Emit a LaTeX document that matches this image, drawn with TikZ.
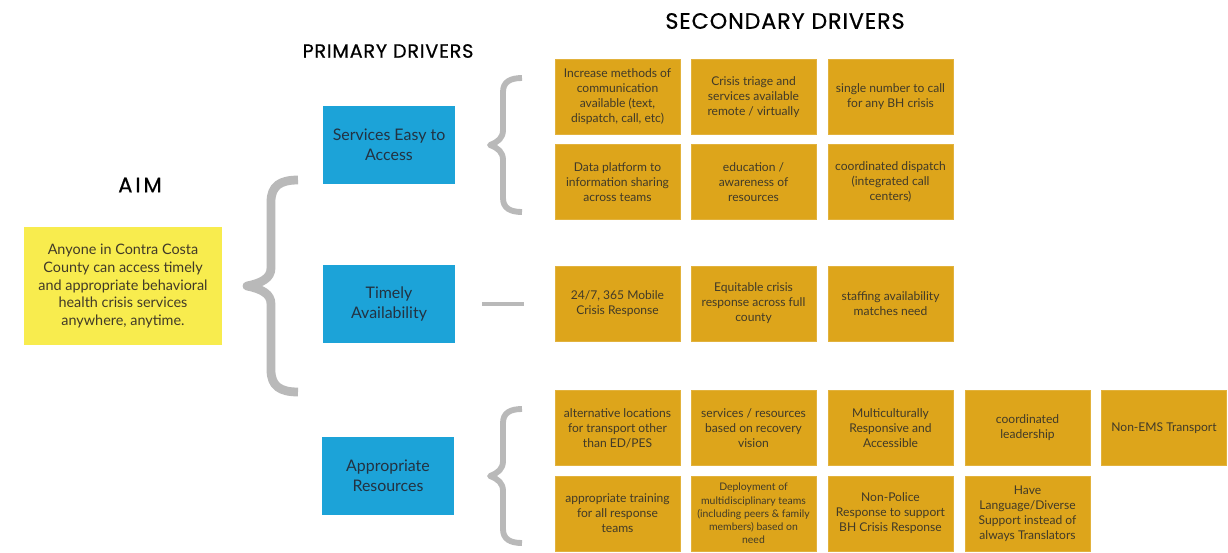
\documentclass[tikz,border=0pt]{standalone}
\usepackage{fontspec}
\setmainfont{Lato}
\newfontfamily\titlefont[LetterSpace=4,FakeBold=0.6]{Poppins}
\usepackage{tikz}
\definecolor{aimyellow}{RGB}{248,236,78}
\definecolor{primblue}{RGB}{28,163,216}
\definecolor{secorange}{RGB}{221,165,27}
\definecolor{bracegray}{RGB}{185,185,185}
\definecolor{notetext}{RGB}{65,58,40}
\definecolor{primtext}{RGB}{35,50,65}

\begin{document}
\begin{tikzpicture}
[x=0.03cm,y=-0.03cm,
 sec/.style={fill=secorange,draw=secorange!85!white,line width=0.6pt,minimum width=3.75cm,minimum height=2.25cm,inner sep=1pt,align=center,text=notetext,font=\fontsize{10.3}{12.8}\selectfont},
 prim/.style={fill=primblue,minimum width=3.96cm,minimum height=2.34cm,align=center,text=primtext,font=\fontsize{13.6}{17}\selectfont},
 title/.style={font=\titlefont\fontsize{19}{22}\selectfont},
 brace/.style={draw=bracegray,line width=7.5pt,line join=round},
 smallbrace/.style={draw=bracegray,line width=5pt,line join=round}]
\useasboundingbox (0,0) rectangle (1228,552);

\node(aimtitle) at (140,185) [title,font=\titlefont\addfontfeatures{LetterSpace=14}\fontsize{18}{20}\selectfont] {AIM};
\node(primtitle) at (388,51) [title,font=\titlefont\fontsize{16.4}{19}\selectfont] {PRIMARY DRIVERS};
\node(sectitle) at (785,21) [title] {SECONDARY DRIVERS};

\node(aim) at (123,286) [fill=aimyellow,minimum width=5.94cm,minimum height=3.54cm,align=center,text=notetext,font=\fontsize{12.3}{15.3}\selectfont] {Anyone in Contra Costa\\County can access timely\\and appropriate behavioral\\health crisis services\\anywhere, anytime.};

\node(prim1) at (389,145) [prim] {Services Easy to\\Access};
\node(prim2) at (389,304) [prim] {Timely\\Availability};
\node(prim3) at (388,476) [prim] {Appropriate\\Resources};

\draw[brace] (298,180) .. controls (280,180) and (271,186) .. (271,202) -- (271,268) .. controls (271,278) and (262,283) .. (247,286) .. controls (262,289) and (271,294) .. (271,304) -- (271,370) .. controls (271,386) and (280,392) .. (298,392);

\draw[smallbrace] (522,78) .. controls (510,78) and (503,82) .. (503,92) -- (503,130) .. controls (503,138) and (498,142) .. (490,145) .. controls (498,148) and (503,152) .. (503,160) -- (503,198) .. controls (503,208) and (510,212) .. (522,212);
\draw[smallbrace] (522,409) .. controls (510,409) and (503,413) .. (503,423) -- (503,461) .. controls (503,469) and (498,473) .. (490,476) .. controls (498,479) and (503,483) .. (503,491) -- (503,529) .. controls (503,539) and (510,543) .. (522,543);

\coordinate(dashL) at (482,304);
\coordinate(dashR) at (524,304);
\draw[draw=bracegray,line width=2.7pt] (dashL) -- (dashR);

% services easy to access
\node(sec1) at (617.5,97) [sec] {Increase methods of\\communication\\available (text,\\dispatch, call, etc)};
\node(sec2) at (753.5,97) [sec] {Crisis triage and\\services available\\remote / virtually};
\node(sec3) at (890.5,97) [sec] {single number to call\\for any BH crisis};
\node(sec4) at (617.5,182) [sec] {Data platform to\\information sharing\\across teams};
\node(sec5) at (753.5,182) [sec] {education /\\awareness of\\resources};
\node(sec6) at (890.5,182) [sec] {coordinated dispatch\\(integrated call\\centers)};

% timely availability
\node(sec7) at (617.5,303.5) [sec] {24/7, 365 Mobile\\Crisis Response};
\node(sec8) at (753.5,303.5) [sec] {Equitable crisis\\response across full\\county};
\node(sec9) at (890.5,303.5) [sec] {staffing availability\\matches need};

% appropriate resources
\node(sec10) at (617.5,428) [sec] {alternative locations\\for transport other\\than ED/PES};
\node(sec11) at (753.5,428) [sec] {services / resources\\based on recovery\\vision};
\node(sec12) at (890.5,428) [sec] {Multiculturally\\Responsive and\\Accessible};
\node(sec13) at (1027.5,428) [sec] {coordinated\\leadership};
\node(sec14) at (1164,428) [sec] {Non-EMS Transport};
\node(sec15) at (617.5,513.5) [sec] {appropriate training\\for all response\\teams};
\node(sec16) at (753.5,513.5) [sec,font=\fontsize{8.9}{11.3}\selectfont] {Deployment of\\multidisciplinary teams\\(including peers \& family\\members) based on\\need};
\node(sec17) at (890.5,513.5) [sec] {Non-Police\\Response to support\\BH Crisis Response};
\node(sec18) at (1027.5,513.5) [sec] {Have\\Language/Diverse\\Support instead of\\always Translators};

\end{tikzpicture}
\end{document}
